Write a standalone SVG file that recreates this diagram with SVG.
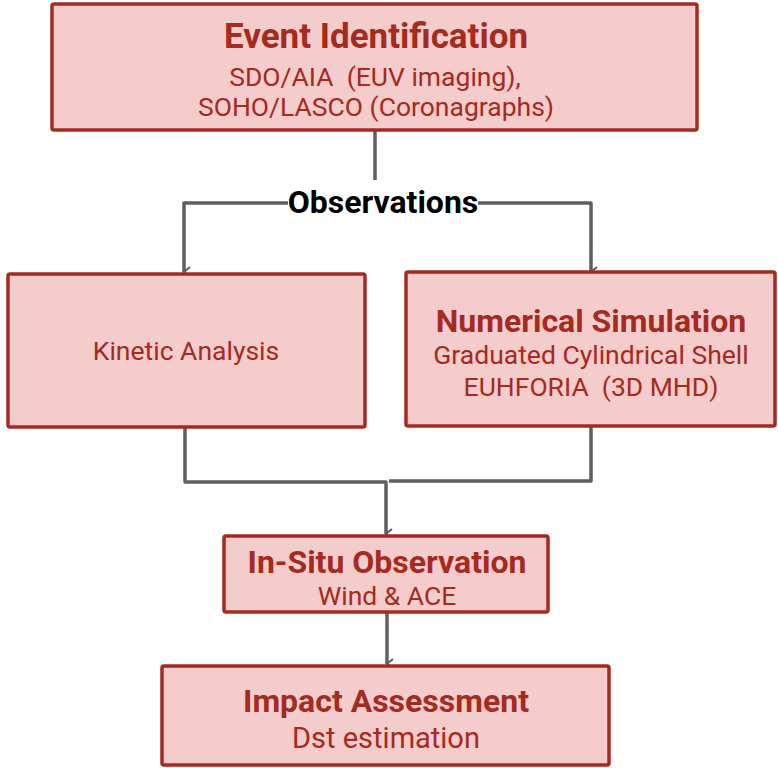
<svg xmlns="http://www.w3.org/2000/svg" width="778" height="768" viewBox="0 0 778 768">
  <style>
    .box { fill: #f4cccc; stroke: #a52a20; stroke-width: 3.5; }
    .title { font-family: Roboto, "Liberation Sans", sans-serif; font-weight: bold; font-size: 32px; fill: #a52a20; text-anchor: middle; }
    .sub { font-family: Roboto, "Liberation Sans", sans-serif; font-size: 26.5px; fill: #a52a20; text-anchor: middle; }
    .wire { fill: none; stroke: #5f5f5f; stroke-width: 3.5; stroke-linejoin: round; }
    .label { font-family: Roboto, "Liberation Sans", sans-serif; font-weight: bold; font-size: 32px; fill: #000; text-anchor: middle; }
  </style>
  <defs>
    <marker id="arrow" viewBox="0 0 12 12" refX="6" refY="11" markerWidth="12" markerHeight="12" markerUnits="userSpaceOnUse" orient="auto-start-reverse">
      <path d="M1,5 L6,11 L11,5" fill="none" stroke="#5f5f5f" stroke-width="2"/>
    </marker>
  </defs>
  <rect width="778" height="768" fill="#fff"/>

  <!-- connectors -->
  <g id="connectors">
    <path class="wire" d="M375,130 V180"/>
    <path class="wire" d="M288,203 H184 V272" marker-end="url(#arrow)"/>
    <path class="wire" d="M478,203 H591 V272" marker-end="url(#arrow)"/>
    <path class="wire" d="M185,427 V482 H386 V534" marker-end="url(#arrow)"/>
    <path class="wire" d="M591,425 V481 H389"/>
    <path class="wire" d="M387,612 V664" marker-end="url(#arrow)"/>
    <text class="label" x="383" y="213">Observations</text>
  </g>

  <g id="event-identification">
    <rect class="box" x="52" y="4" width="645" height="126" rx="2"/>
    <text class="title" x="376" y="48" style="font-size:35px">Event Identification</text>
    <text class="sub" x="375" y="86" xml:space="preserve">SDO/AIA  (EUV imaging),</text>
    <text class="sub" x="376" y="116">SOHO/LASCO (Coronagraphs)</text>
  </g>

  <g id="kinetic-analysis">
    <rect class="box" x="8" y="274" width="357" height="153" rx="2"/>
    <text class="sub" x="186" y="360">Kinetic Analysis</text>
  </g>

  <g id="numerical-simulation">
    <rect class="box" x="406" y="272" width="369" height="154" rx="2"/>
    <text class="title" x="591" y="332">Numerical Simulation</text>
    <text class="sub" x="591" y="364">Graduated Cylindrical Shell</text>
    <text class="sub" x="591" y="396" xml:space="preserve">EUHFORIA  (3D MHD)</text>
  </g>

  <g id="in-situ-observation">
    <rect class="box" x="224" y="536" width="324" height="76" rx="2"/>
    <text class="title" x="387" y="573">In-Situ Observation</text>
    <text class="sub" x="387" y="605">Wind &amp; ACE</text>
  </g>

  <g id="impact-assessment">
    <rect class="box" x="162" y="666" width="447" height="99" rx="2"/>
    <text class="title" x="386" y="712">Impact Assessment</text>
    <text class="sub" x="386" y="748" style="font-size:29px">Dst estimation</text>
  </g>
</svg>
